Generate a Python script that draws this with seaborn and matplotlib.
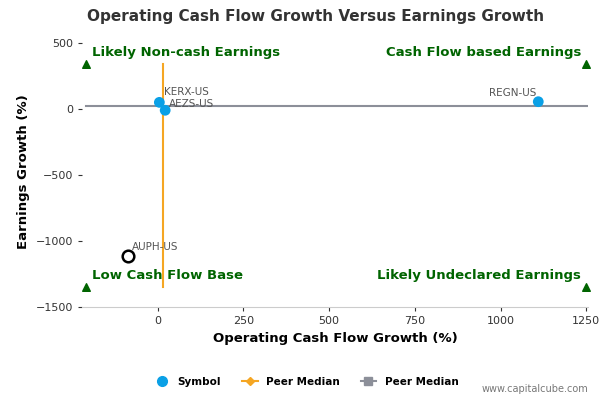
import matplotlib
matplotlib.use("Agg")
import matplotlib.pyplot as plt
import seaborn as sns
import pandas as pd
from matplotlib.lines import Line2D

symbols = ["KERX-US", "AEZS-US", "REGN-US"]
cf_growth = [5, 22, 1110]
eps_growth = [50, -10, 55]
peer_symbol = "AUPH-US"
peer_cf = -85
peer_eps = -1115
median_x = 15
median_y = 25
x_ticks = [0, 250, 500, 750, 1000, 1250]
y_ticks = [500, 0, -500, -1000, -1500]

df = pd.DataFrame({"sym": symbols, "x": cf_growth, "y": eps_growth})

fig = plt.figure(figsize=(6, 4), dpi=100)
ax = fig.add_axes([0.137, 0.2325, 0.843, 0.675])
xmin, xmax, ymin, ymax = -220, 1255, -1500, 545
ax.set_xlim(xmin, xmax); ax.set_ylim(ymin, ymax)

ax.plot([xmin + 10, xmax], [median_y, median_y], color="#8c8f99", lw=1.5, zorder=1)
ax.plot([median_x, median_x], [340, -1350], color="#f5a623", lw=1.5, zorder=1)

sns.scatterplot(data=df, x="x", y="y", ax=ax, color="#0aa0e6", s=60, edgecolor="none", zorder=3, legend=False)
ax.scatter([peer_cf], [peer_eps], s=70, facecolor="white", edgecolor="black", lw=1.8, zorder=3)
offsets = {"KERX-US": (15, 75), "AEZS-US": (10, 50), "REGN-US": (-145, 65)}
for s, x, y in zip(symbols, cf_growth, eps_growth):
    dx, dy = offsets[s]
    ax.text(x + dx, y + dy, s, fontsize=7.5, color="#555555", va="center")
ax.text(peer_cf + 10, peer_eps + 70, peer_symbol, fontsize=7.5, color="#555555", va="center")

g = "#006400"
for (x, y) in [(xmin + 12, 340), (xmax - 5, 340), (xmin + 12, -1350), (xmax - 5, -1350)]:
    ax.scatter([x], [y], marker="^", color=g, s=30, zorder=4, clip_on=False)
ax.text(xmin + 30, 400, "Likely Non-cash Earnings", color=g, fontsize=9.5, fontweight="bold")
ax.text(xmax - 20, 400, "Cash Flow based Earnings", color=g, fontsize=9.5, fontweight="bold", ha="right")
ax.text(xmin + 30, -1290, "Low Cash Flow Base", color=g, fontsize=9.5, fontweight="bold")
ax.text(xmax - 20, -1290, "Likely Undeclared Earnings", color=g, fontsize=9.5, fontweight="bold", ha="right")

ax.set_xticks(x_ticks); ax.set_yticks(y_ticks)
ax.tick_params(labelsize=8, colors="#333333", length=3)
for s in ["top", "right", "left"]:
    ax.spines[s].set_visible(False)
ax.spines["bottom"].set_color("#cccccc")
ax.set_xlabel("Operating Cash Flow Growth (%)", fontsize=9.5, fontweight="bold")
ax.set_ylabel("Earnings Growth (%)", fontsize=9.5, fontweight="bold")
fig.text(0.145, 0.96, "Operating Cash Flow Growth Versus Earnings Growth", fontsize=11, color="#333333",
         va="center", fontweight="semibold")

handles = [Line2D([], [], marker="o", color="#0aa0e6", ls="none", ms=7),
           Line2D([], [], marker="D", color="#f5a623", ms=4, lw=1.5),
           Line2D([], [], marker="s", color="#8c8f99", ms=6, lw=1.5)]
fig.legend(handles, ["Symbol", "Peer Median", "Peer Median"], loc="center", bbox_to_anchor=(0.51, 0.045),
           ncol=3, frameon=False, prop={"size": 7.5, "weight": "bold"}, handlelength=1.5, columnspacing=2)
fig.text(0.98, 0.02, "www.capitalcube.com", fontsize=7, color="#777777", ha="right")
fig.savefig("out.png", dpi=100)
